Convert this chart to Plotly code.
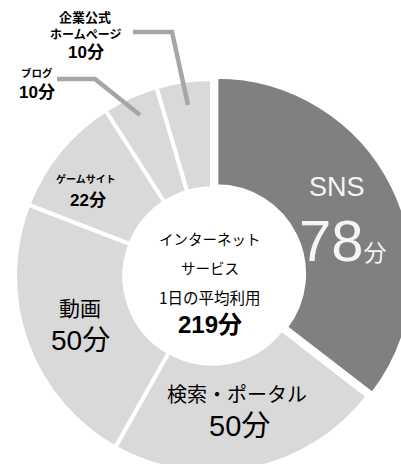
import plotly.graph_objects as go

# ---- data ----
categories = ["SNS", "検索・ポータル", "動画", "ゲームサイト", "ブログ", "企業公式ホームページ"]
minutes = [78, 50, 50, 22, 10, 10]
unit = "分"
center_lines = ["インターネット", "サービス", "1日の平均利用"]
center_total = "219分"

# ---- layout geometry (pixels) ----
W, H = 430, 500
CX, CY, R = 212, 276, 197
PULL = 0.025
RD = R * (1 + PULL)

def px(x):
    return x / W

def py(y):
    return 1 - y / H

DARK = "#808080"
LIGHT = "#d9d9d9"
colors = [DARK] + [LIGHT] * (len(categories) - 1)
pulls = [PULL] + [0] * (len(categories) - 1)

FONT = "Liberation Sans, Arial, Noto Sans CJK JP, sans-serif"
JFONT = "Noto Sans CJK JP, sans-serif"

fig = go.Figure(go.Pie(
    labels=categories,
    values=minutes,
    sort=False,
    direction="clockwise",
    rotation=0,
    hole=0.445,
    pull=pulls,
    marker=dict(colors=colors, line=dict(color="white", width=4)),
    textinfo="none",
    hoverinfo="label+value",
    showlegend=False,
    domain=dict(x=[px(CX - RD), px(CX + RD)], y=[py(CY + RD), py(CY - RD)]),
))

ann = []

def add(text, x, y, size, color="#000000", bold=False, font=FONT, xanchor="center"):
    t = f"<b>{text}</b>" if bold else text
    ann.append(dict(x=px(x), y=py(y), xref="paper", yref="paper", text=t,
                    showarrow=False, xanchor=xanchor, yanchor="middle",
                    font=dict(size=size, color=color, family=font)))

# SNS
add(categories[0], 337, 187, 27, color="#f5f5f5")
add(f"<span style='font-size:58px'>{minutes[0]}</span>"
    f"<span style='font-size:23px'>{unit}</span>", 343, 240, 58, color="#f5f5f5")

# 検索・ポータル
add(categories[1], 237, 393, 20, font=JFONT)
add(f"{minutes[1]}{unit}", 239, 426, 29)

# 動画
add(categories[2], 80, 307, 21, font=JFONT)
add(f"{minutes[2]}{unit}", 80, 340, 28)

# ゲームサイト
add(categories[3], 86, 178, 10, bold=True, font=JFONT)
add(f"{minutes[3]}{unit}", 88, 200, 17, bold=True)

# ブログ
add(categories[4], 19, 72, 10.5, bold=True, font=JFONT, xanchor="left")
add(f"{minutes[4]}{unit}", 17, 93, 17, bold=True, xanchor="left")

# 企業公式ホームページ
add("企業公式", 85, 16, 13, bold=True, font=JFONT)
add("ホームページ", 85, 33, 12, bold=True, font=JFONT)
add(f"{minutes[5]}{unit}", 86, 53, 17, bold=True)

# center
add(center_lines[0], 210, 238, 14.5, font=JFONT)
add(center_lines[1], 210, 267, 14.5, font=JFONT)
add(center_lines[2], 210, 297, 15.5, font=JFONT)
add(center_total, 210, 324, 24, bold=True)

LINE = dict(color="#a6a6a6", width=4.5)
shapes = [
    dict(type="path", xref="paper", yref="paper",
         path=f"M {px(133)} {py(32)} L {px(172)} {py(32)} L {px(188)} {py(105)}",
         line=LINE),
    dict(type="path", xref="paper", yref="paper",
         path=f"M {px(57)} {py(79)} L {px(95)} {py(79)} L {px(140)} {py(115)}",
         line=LINE),
]

fig.update_layout(
    width=W, height=H,
    margin=dict(l=0, r=0, t=0, b=0),
    paper_bgcolor="white", plot_bgcolor="white",
    annotations=ann, shapes=shapes,
)

fig.write_html("out.html", post_script=
    "document.documentElement.style.overflow='hidden';document.body.style.overflow='hidden';document.body.style.margin='0';")
